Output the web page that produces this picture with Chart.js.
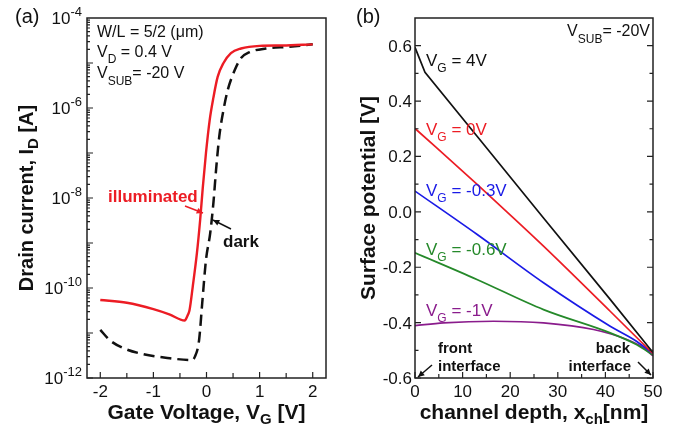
<!DOCTYPE html>
<html>
<head>
<meta charset="utf-8">
<script src="https://cdn.jsdelivr.net/npm/chart.js@4.4.0/dist/chart.umd.min.js"></script>
<style>
  body { margin: 0; background: #fff; }
  #wrap { position: relative; width: 676px; height: 429px; }
  canvas { position: absolute; top: 0; }
</style>
</head>
<body>
<div id="wrap">
  <canvas id="chartA" width="338" height="429" style="left:0"></canvas>
  <canvas id="chartB" width="338" height="429" style="left:338px"></canvas>
</div>
<script>
// (a) drain current vs gate voltage
const vgIllum = [-2.0, -1.5, -1.0, -0.7, -0.41, -0.36, -0.32, -0.26, -0.18, -0.12, -0.07, -0.01, 0.06, 0.13, 0.21, 0.32, 0.46, 0.65, 1.0, 1.43, 2.0];
const idIllum = [5.4e-11, 4.7e-11, 3.4e-11, 2.6e-11, 1.9e-11, 2.4e-11, 3.2e-11, 1.05e-10, 6.0e-10, 3.2e-9, 1.7e-8, 1.0e-7, 5.4e-7, 1.7e-6, 4.9e-6, 1.0e-5, 1.66e-5, 2.1e-5, 2.4e-5, 2.45e-5, 2.6e-5];
const vgDark = [-2.0, -1.82, -1.58, -1.2, -0.69, -0.28, -0.22, -0.14, -0.08, -0.01, 0.07, 0.13, 0.18, 0.24, 0.32, 0.40, 0.53, 0.65, 0.81, 1.12, 1.56, 2.0];
const idDark = [1.17e-11, 6.9e-12, 4.7e-12, 3.4e-12, 2.75e-12, 2.5e-12, 2.95e-12, 6.9e-12, 4.7e-11, 4.2e-10, 1.66e-9, 7.8e-9, 4.2e-8, 2.3e-7, 9.1e-7, 2.5e-6, 6.9e-6, 1.29e-5, 1.74e-5, 2.1e-5, 2.3e-5, 2.6e-5];
const vgTicks = [-2, -1, 0, 1, 2];
const idTickExps = [-12, -10, -8, -6, -4];

// (b) surface potential vs channel depth, V_SUB = -20 V
const depth4V = [0, 2.1, 13, 27, 41, 50];
const psi4V = [0.594, 0.504, 0.274, -0.022, -0.316, -0.508];
const depth0V = [0, 13, 19.3, 27, 41, 50];
const psi0V = [0.301, 0.100, 0.0, -0.124, -0.359, -0.512];
const depthM03 = [0, 13, 27, 41, 46.6, 50];
const psiM03 = [0.075, -0.081, -0.256, -0.413, -0.468, -0.512];
const depthM06 = [0, 13, 27, 41, 46.6, 50];
const psiM06 = [-0.148, -0.244, -0.353, -0.437, -0.480, -0.517];
const depthM1 = [0, 6, 16.5, 27, 37.5, 44.5, 48, 50];
const psiM1 = [-0.411, -0.401, -0.395, -0.401, -0.425, -0.461, -0.491, -0.520];
const depthTicks = [0, 10, 20, 30, 40, 50];
const psiTicks = [0.6, 0.4, 0.2, 0.0, -0.2, -0.4, -0.6];

const FONT = '"Liberation Sans", Arial, Helvetica, sans-serif';
const RED = '#ec1c24', BLUE = '#1a1ae6', GREEN = '#25892a', PURPLE = '#8a1c8c', INK = '#111';

const pts = (xs, ys) => xs.map((v, i) => ({ x: v, y: ys[i] }));

// draw a run of text pieces: [text, size, dy, bold]
function richText(ctx, parts, x, y, align, color) {
  const setFont = p => ctx.font = (p[3] ? 'bold ' : '') + p[1] + 'px ' + FONT;
  let w = 0;
  parts.forEach(p => { setFont(p); w += ctx.measureText(p[0]).width; });
  let cx = align === 'center' ? x - w / 2 : (align === 'right' ? x - w : x);
  ctx.fillStyle = color || INK;
  ctx.textAlign = 'left';
  ctx.textBaseline = 'alphabetic';
  parts.forEach(p => {
    setFont(p);
    ctx.fillText(p[0], cx, y + (p[2] || 0));
    cx += ctx.measureText(p[0]).width;
  });
}

function arrow(ctx, x1, y1, x2, y2, color) {
  ctx.strokeStyle = color; ctx.fillStyle = color; ctx.lineWidth = 1.5;
  ctx.beginPath(); ctx.moveTo(x1, y1); ctx.lineTo(x2, y2); ctx.stroke();
  const a = Math.atan2(y2 - y1, x2 - x1), L = 7;
  ctx.beginPath();
  ctx.moveTo(x2, y2);
  ctx.lineTo(x2 - L * Math.cos(a - 0.45), y2 - L * Math.sin(a - 0.45));
  ctx.lineTo(x2 - L * Math.cos(a + 0.45), y2 - L * Math.sin(a + 0.45));
  ctx.closePath(); ctx.fill();
}

function frame(ctx, ca) {
  ctx.strokeStyle = '#222'; ctx.lineWidth = 1.5;
  ctx.strokeRect(ca.left, ca.top, ca.right - ca.left, ca.bottom - ca.top);
}

const panelA = {
  id: 'panelA',
  afterDraw(chart) {
    const { ctx, chartArea: ca } = chart;
    const x = chart.scales.x, y = chart.scales.y;
    ctx.save();
    frame(ctx, ca);
    ctx.lineWidth = 1.2;
    ctx.beginPath();
    for (let e = -12; e < -4; e++) {
      for (let m = 1; m < 10; m++) {
        const py = y.getPixelForValue(m * Math.pow(10, e));
        ctx.moveTo(ca.left, py); ctx.lineTo(ca.left + (m === 1 ? 6 : 3), py);
      }
    }
    for (let i = 0; i <= 8; i++) {
      const v = -2 + i * 0.5;
      const px = x.getPixelForValue(v);
      ctx.moveTo(px, ca.bottom); ctx.lineTo(px, ca.bottom - (i % 2 === 0 ? 6 : 5));
    }
    ctx.stroke();

    idTickExps.forEach(e => {
      const py = y.getPixelForValue(Math.pow(10, e));
      richText(ctx, [['10', 17, 0], [String(e), 13, -8]], 82, py + 6, 'right');
    });
    vgTicks.forEach(v => {
      richText(ctx, [[String(v), 17, 0]], x.getPixelForValue(v), 397, 'center');
    });

    richText(ctx, [['Gate Voltage, V', 21, 0, true], ['G', 15, 5, true], [' [V]', 21, 0, true]],
      (ca.left + ca.right) / 2, 419, 'center');
    ctx.save();
    ctx.translate(33, (ca.top + ca.bottom) / 2);
    ctx.rotate(-Math.PI / 2);
    richText(ctx, [['Drain current, I', 20, 0, true], ['D', 15, 5, true], [' [A]', 20, 0, true]], 0, 0, 'center');
    ctx.restore();

    richText(ctx, [['(a)', 20, 0]], 15, 23, 'left');
    richText(ctx, [['W/L = 5/2 (\u03bcm)', 16, 0]], 97, 37, 'left');
    richText(ctx, [['V', 16, 0], ['D', 12, 6], [' = 0.4 V', 16, 0]], 97, 57, 'left');
    richText(ctx, [['V', 16, 0], ['SUB', 12, 7], ['= -20 V', 16, 0]], 97, 78, 'left');

    richText(ctx, [['illuminated', 17, 0, true]], 108, 202, 'left', RED);
    arrow(ctx, 185, 206, 203, 213, RED);
    richText(ctx, [['dark', 17, 0, true]], 223, 247, 'left', INK);
    arrow(ctx, 231, 229, 213, 220, INK);
    ctx.restore();
  }
};

const panelB = {
  id: 'panelB',
  afterDraw(chart) {
    const { ctx, chartArea: ca } = chart;
    const x = chart.scales.x, y = chart.scales.y;
    ctx.save();
    frame(ctx, ca);
    ctx.lineWidth = 1.2;
    ctx.beginPath();
    for (let i = -6; i <= 6; i++) {
      const py = y.getPixelForValue(i / 10);
      const len = i % 2 === 0 ? 6 : 3.5;
      ctx.moveTo(ca.left, py); ctx.lineTo(ca.left + len, py);
      ctx.moveTo(ca.right, py); ctx.lineTo(ca.right - len, py);
    }
    for (let i = 0; i <= 10; i++) {
      const px = x.getPixelForValue(i * 5);
      ctx.moveTo(px, ca.bottom); ctx.lineTo(px, ca.bottom - (i % 2 === 0 ? 6 : 4));
    }
    ctx.stroke();

    psiTicks.forEach(v => {
      richText(ctx, [[v.toFixed(1), 17, 0]], ca.left - 3, y.getPixelForValue(v) + 6, 'right');
    });
    depthTicks.forEach(v => {
      richText(ctx, [[String(v), 17, 0]], x.getPixelForValue(v), 397, 'center');
    });

    richText(ctx, [['channel depth, x', 21, 0, true], ['ch', 15, 5, true], ['[nm]', 21, 0, true]],
      (ca.left + ca.right) / 2, 419, 'center');
    ctx.save();
    ctx.translate(37, (ca.top + ca.bottom) / 2);
    ctx.rotate(-Math.PI / 2);
    richText(ctx, [['Surface potential [V]', 21, 0, true]], 0, 0, 'center');
    ctx.restore();

    richText(ctx, [['(b)', 20, 0]], 18, 23, 'left');
    richText(ctx, [['V', 16, 0], ['SUB', 12, 7], ['= -20V', 16, 0]], 312, 36, 'right');

    const lx = 88;
    richText(ctx, [['V', 17, 0], ['G', 12, 6], [' = 4V', 17, 0]], lx, 66, 'left', INK);
    richText(ctx, [['V', 17, 0], ['G', 12, 6], [' = 0V', 17, 0]], lx, 135, 'left', RED);
    richText(ctx, [['V', 17, 0], ['G', 12, 6], [' = -0.3V', 17, 0]], lx, 196, 'left', BLUE);
    richText(ctx, [['V', 17, 0], ['G', 12, 6], [' = -0.6V', 17, 0]], lx, 255, 'left', GREEN);
    richText(ctx, [['V', 17, 0], ['G', 12, 6], [' = -1V', 17, 0]], lx, 316, 'left', PURPLE);

    richText(ctx, [['front', 15, 0, true]], 100, 353, 'left');
    richText(ctx, [['interface', 15, 0, true]], 100, 371, 'left');
    arrow(ctx, 94, 365, 80, 377, INK);
    richText(ctx, [['back', 15, 0, true]], 292, 353, 'right');
    richText(ctx, [['interface', 15, 0, true]], 293, 371, 'right');
    arrow(ctx, 300, 362, 313, 375, INK);
    ctx.restore();
  }
};

const baseOptions = (padding) => ({
  responsive: false,
  animation: false,
  devicePixelRatio: 1,
  events: [],
  layout: { padding: padding },
  plugins: { legend: { display: false }, tooltip: { enabled: false } },
  elements: { point: { radius: 0 } }
});

const optsA = baseOptions({ left: 87, top: 18, right: 12, bottom: 51 });
optsA.scales = {
  x: { type: 'linear', min: -2.25, max: 2.25, display: false },
  y: { type: 'logarithmic', min: 1e-12, max: 1e-4, display: false }
};

new Chart(document.getElementById('chartA'), {
  type: 'line',
  data: {
    datasets: [
      { data: pts(vgIllum, idIllum), borderColor: RED, borderWidth: 2.4, cubicInterpolationMode: 'monotone' },
      { data: pts(vgDark, idDark), borderColor: INK, borderWidth: 2.5, borderDash: [11, 6], cubicInterpolationMode: 'monotone' }
    ]
  },
  options: optsA,
  plugins: [panelA]
});

const optsB = baseOptions({ left: 77, top: 18, right: 23, bottom: 51 });
optsB.scales = {
  x: { type: 'linear', min: 0, max: 50, display: false },
  y: { type: 'linear', min: -0.6, max: 0.7, display: false }
};

new Chart(document.getElementById('chartB'), {
  type: 'line',
  data: {
    datasets: [
      { data: pts(depth4V, psi4V), borderColor: INK, borderWidth: 1.7, tension: 0 },
      { data: pts(depth0V, psi0V), borderColor: RED, borderWidth: 1.7, cubicInterpolationMode: 'monotone' },
      { data: pts(depthM03, psiM03), borderColor: BLUE, borderWidth: 1.7, cubicInterpolationMode: 'monotone' },
      { data: pts(depthM06, psiM06), borderColor: GREEN, borderWidth: 1.7, cubicInterpolationMode: 'monotone' },
      { data: pts(depthM1, psiM1), borderColor: PURPLE, borderWidth: 1.7, cubicInterpolationMode: 'monotone' }
    ]
  },
  options: optsB,
  plugins: [panelB]
});
</script>
</body>
</html>
